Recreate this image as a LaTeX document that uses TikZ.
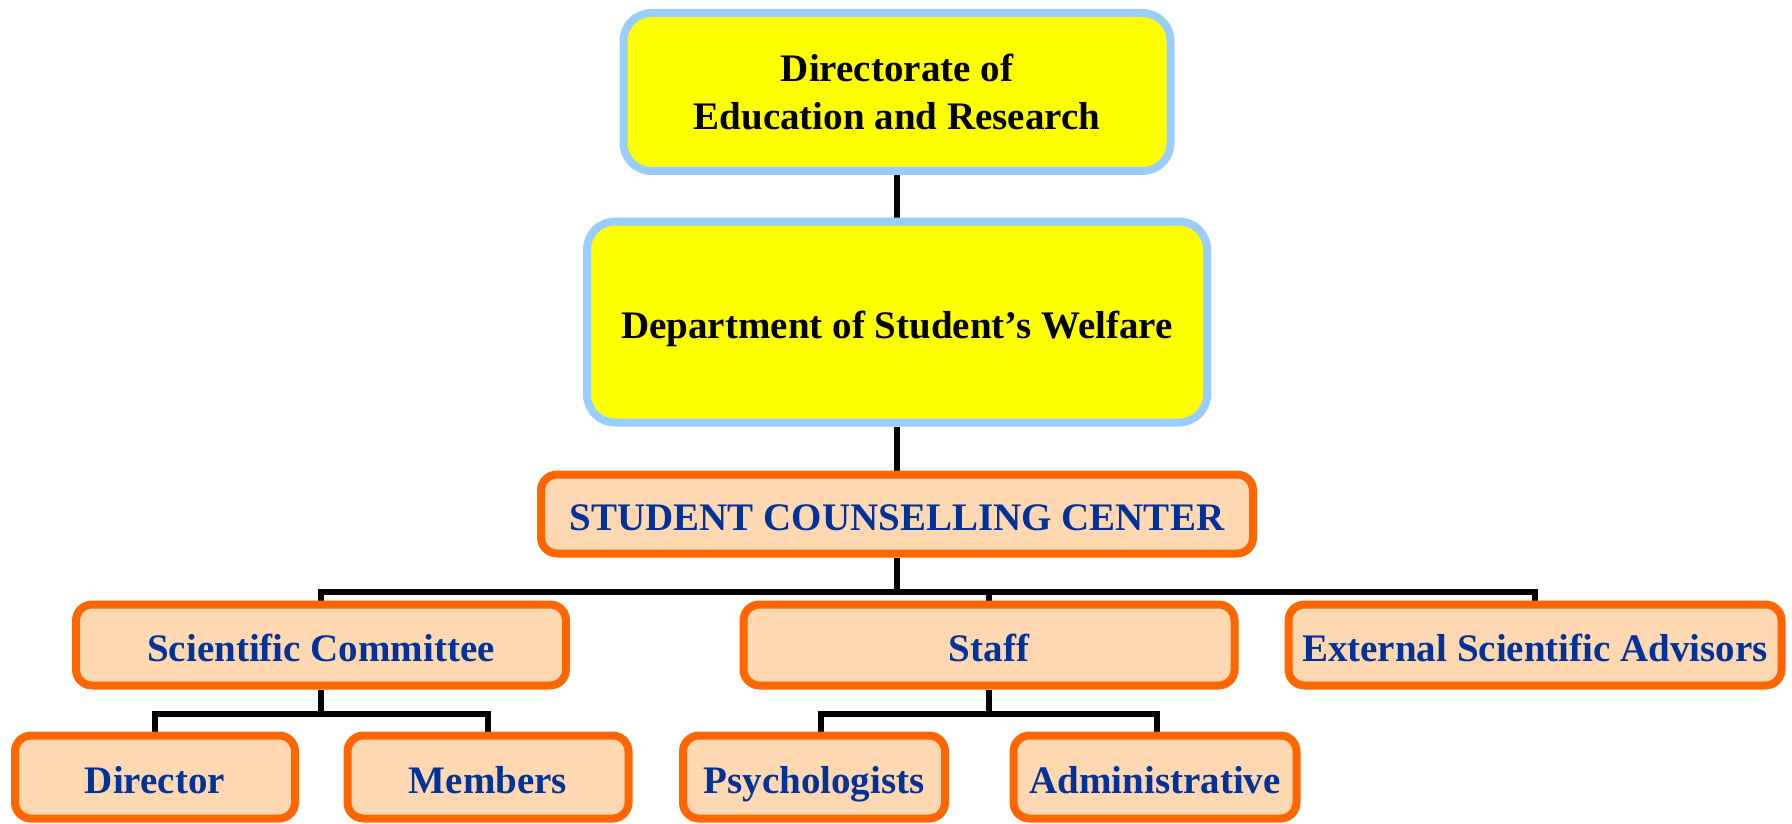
\documentclass[tikz,border=0pt]{standalone}
\usepackage{fontspec}
\setmainfont{Liberation Serif}
\usetikzlibrary{backgrounds}
\definecolor{ybox}{HTML}{FFFF00}
\definecolor{bborder}{HTML}{99CCFF}
\definecolor{oborder}{HTML}{FF6600}
\definecolor{ofill}{HTML}{FFD8B2}
\definecolor{btext}{HTML}{003399}
\tikzset{
  topbox/.style={draw=bborder, fill=ybox, line width=8pt, rounded corners=28pt,
    text=black, font=\fontsize{39}{48}\selectfont\bfseries, align=center, inner sep=0pt},
  obox/.style={draw=oborder, fill=ofill, line width=8pt, rounded corners=16pt,
    text=btext, font=\fontsize{39}{48}\selectfont\bfseries, align=center, inner sep=0pt,
    minimum height=81pt, text height=35pt, text depth=2pt},
  conn/.style={draw=black, line width=6pt}
}
\begin{document}
\begin{tikzpicture}[x=1pt,y=-1pt]
\useasboundingbox (0,0) rectangle (1792,824);
\node[topbox, minimum width=547pt, minimum height=158pt] (top) at (897,92) {Directorate of\\Education and Research};
\node[topbox, minimum width=620pt, minimum height=201pt, text height=35pt, text depth=2pt] (dept) at (897,322) {Department of Student’s Welfare};
\node[obox, minimum width=712pt, minimum height=79pt] (scc) at (897,514) {STUDENT COUNSELLING CENTER};
\node[obox, minimum width=490pt] (sci) at (321,645) {Scientific Committee};
\node[obox, minimum width=491pt] (staff) at (989,645) {Staff};
\node[obox, minimum width=493pt] (ext) at (1535,645) {External Scientific Advisors};
\node[obox, minimum width=280pt, minimum height=83pt] (director) at (155,777) {Director};
\node[obox, minimum width=281pt, minimum height=83pt] (members) at (488,777) {Members};
\node[obox, minimum width=262pt, minimum height=83pt] (psych) at (814,777) {Psychologists};
\node[obox, minimum width=283pt, minimum height=83pt] (admin) at (1155,777) {Administrative};
\coordinate (bus) at (897,592);
\coordinate (sbus) at (321,714);
\coordinate (tbus) at (989,714);
\begin{scope}[on background layer]
\draw[conn] (top.south) -- (dept.north);
\draw[conn] (dept.south) -- (scc.north);
\draw[conn] (scc.south) -- (bus);
\draw[conn] (sci.north) |- (bus) -| (ext.north);
\draw[conn] (staff.north) -- (staff.north |- bus);
\draw[conn] (sci.south) -- (sbus);
\draw[conn] (director.north) |- (sbus) -| (members.north);
\draw[conn] (staff.south) -- (tbus);
\draw[conn] ([xshift=7pt]psych.north) |- (tbus) -| ([xshift=2pt]admin.north);
\end{scope}
\end{tikzpicture}
\end{document}
